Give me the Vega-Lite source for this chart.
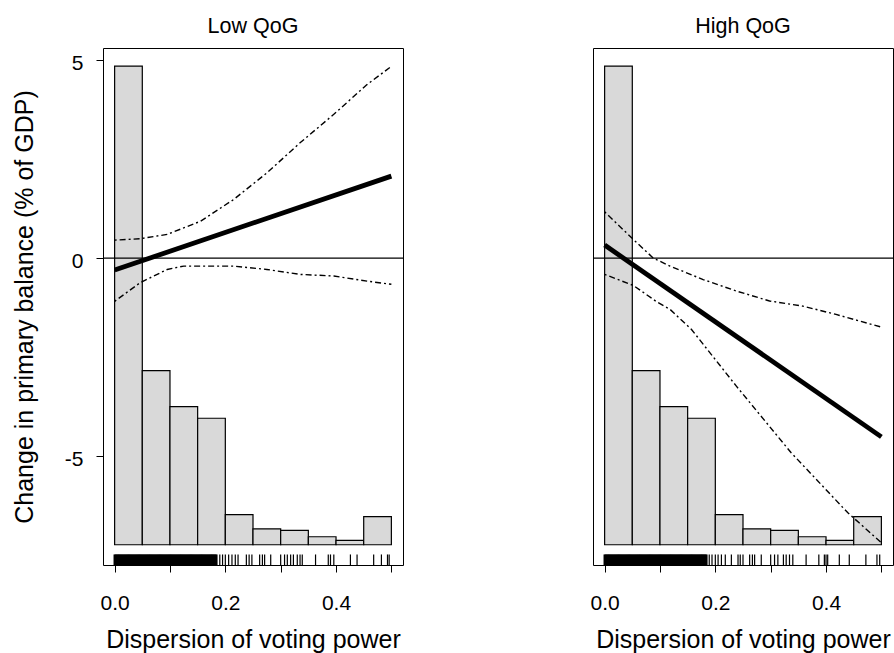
{
  "$schema": "https://vega.github.io/schema/vega-lite/v6.json",
  "background": "white",
  "padding": {"left": 11, "top": 15, "right": 0, "bottom": 0},
  "spacing": 190,
  "bounds": "flush",
  "config": {
    "font": "Liberation Sans",
    "view": {"stroke": "black", "strokeWidth": 1},
    "axis": {
      "grid": false,
      "domain": false,
      "tickColor": "black",
      "tickSize": 7,
      "tickWidth": 1,
      "labelColor": "black",
      "titleColor": "black",
      "labelFont": "Liberation Sans",
      "titleFont": "Liberation Sans",
      "labelFontSize": 21,
      "titleFontSize": 25,
      "titleFontWeight": "normal",
      "labelOverlap": false,
      "labelFlush": false
    },
    "title": {
      "font": "Liberation Sans",
      "fontSize": 21.5,
      "fontWeight": "normal",
      "color": "black",
      "anchor": "middle",
      "baseline": "alphabetic",
      "offset": 11
    }
  },
  "datasets": {
    "hist": [
      {"bin_start": 0.00, "bin_end": 0.05, "top": 4.845},
      {"bin_start": 0.05, "bin_end": 0.10, "top": -2.84},
      {"bin_start": 0.10, "bin_end": 0.15, "top": -3.745},
      {"bin_start": 0.15, "bin_end": 0.20, "top": -4.04},
      {"bin_start": 0.20, "bin_end": 0.25, "top": -6.47},
      {"bin_start": 0.25, "bin_end": 0.30, "top": -6.83},
      {"bin_start": 0.30, "bin_end": 0.35, "top": -6.87},
      {"bin_start": 0.35, "bin_end": 0.40, "top": -7.03},
      {"bin_start": 0.40, "bin_end": 0.45, "top": -7.12},
      {"bin_start": 0.45, "bin_end": 0.50, "top": -6.52}
    ],
    "curves": [
      {"panel": "low", "series": "est", "x": 0.0, "y": -0.30},
      {"panel": "low", "series": "est", "x": 0.5, "y": 2.07},
      {"panel": "low", "series": "hi", "x": 0.0, "y": 0.455},
      {"panel": "low", "series": "hi", "x": 0.046, "y": 0.49},
      {"panel": "low", "series": "hi", "x": 0.095, "y": 0.60},
      {"panel": "low", "series": "hi", "x": 0.155, "y": 0.93},
      {"panel": "low", "series": "hi", "x": 0.215, "y": 1.48},
      {"panel": "low", "series": "hi", "x": 0.275, "y": 2.15},
      {"panel": "low", "series": "hi", "x": 0.335, "y": 2.91},
      {"panel": "low", "series": "hi", "x": 0.396, "y": 3.63},
      {"panel": "low", "series": "hi", "x": 0.456, "y": 4.38},
      {"panel": "low", "series": "hi", "x": 0.5, "y": 4.84},
      {"panel": "low", "series": "lo", "x": 0.0, "y": -1.09},
      {"panel": "low", "series": "lo", "x": 0.046, "y": -0.62},
      {"panel": "low", "series": "lo", "x": 0.095, "y": -0.285},
      {"panel": "low", "series": "lo", "x": 0.125, "y": -0.20},
      {"panel": "low", "series": "lo", "x": 0.215, "y": -0.20},
      {"panel": "low", "series": "lo", "x": 0.275, "y": -0.285},
      {"panel": "low", "series": "lo", "x": 0.335, "y": -0.41},
      {"panel": "low", "series": "lo", "x": 0.396, "y": -0.45},
      {"panel": "low", "series": "lo", "x": 0.456, "y": -0.58},
      {"panel": "low", "series": "lo", "x": 0.5, "y": -0.66},
      {"panel": "high", "series": "est", "x": 0.0, "y": 0.33},
      {"panel": "high", "series": "est", "x": 0.5, "y": -4.51},
      {"panel": "high", "series": "hi", "x": 0.0, "y": 1.17},
      {"panel": "high", "series": "hi", "x": 0.052, "y": 0.47},
      {"panel": "high", "series": "hi", "x": 0.088, "y": 0.0},
      {"panel": "high", "series": "hi", "x": 0.118, "y": -0.20},
      {"panel": "high", "series": "hi", "x": 0.178, "y": -0.54},
      {"panel": "high", "series": "hi", "x": 0.238, "y": -0.83},
      {"panel": "high", "series": "hi", "x": 0.298, "y": -1.08},
      {"panel": "high", "series": "hi", "x": 0.358, "y": -1.21},
      {"panel": "high", "series": "hi", "x": 0.418, "y": -1.42},
      {"panel": "high", "series": "hi", "x": 0.5, "y": -1.74},
      {"panel": "high", "series": "lo", "x": 0.0, "y": -0.41},
      {"panel": "high", "series": "lo", "x": 0.052, "y": -0.69},
      {"panel": "high", "series": "lo", "x": 0.094, "y": -1.10},
      {"panel": "high", "series": "lo", "x": 0.118, "y": -1.29},
      {"panel": "high", "series": "lo", "x": 0.157, "y": -1.80},
      {"panel": "high", "series": "lo", "x": 0.238, "y": -3.23},
      {"panel": "high", "series": "lo", "x": 0.337, "y": -4.91},
      {"panel": "high", "series": "lo", "x": 0.439, "y": -6.42},
      {"panel": "high", "series": "lo", "x": 0.5, "y": -7.18}
    ],
    "rug": [
      {"panel": "both", "x": 0.000}, {"panel": "both", "x": 0.002}, {"panel": "both", "x": 0.004}, {"panel": "both", "x": 0.006}, {"panel": "both", "x": 0.008},
      {"panel": "both", "x": 0.010}, {"panel": "both", "x": 0.012}, {"panel": "both", "x": 0.014}, {"panel": "both", "x": 0.016}, {"panel": "both", "x": 0.018},
      {"panel": "both", "x": 0.020}, {"panel": "both", "x": 0.022}, {"panel": "both", "x": 0.024}, {"panel": "both", "x": 0.026}, {"panel": "both", "x": 0.028},
      {"panel": "both", "x": 0.030}, {"panel": "both", "x": 0.032}, {"panel": "both", "x": 0.034}, {"panel": "both", "x": 0.036}, {"panel": "both", "x": 0.038},
      {"panel": "both", "x": 0.040}, {"panel": "both", "x": 0.042}, {"panel": "both", "x": 0.044}, {"panel": "both", "x": 0.046}, {"panel": "both", "x": 0.048},
      {"panel": "both", "x": 0.050}, {"panel": "both", "x": 0.052}, {"panel": "both", "x": 0.054}, {"panel": "both", "x": 0.056}, {"panel": "both", "x": 0.058},
      {"panel": "both", "x": 0.060}, {"panel": "both", "x": 0.062}, {"panel": "both", "x": 0.064}, {"panel": "both", "x": 0.066}, {"panel": "both", "x": 0.068},
      {"panel": "both", "x": 0.070}, {"panel": "both", "x": 0.072}, {"panel": "both", "x": 0.074}, {"panel": "both", "x": 0.076}, {"panel": "both", "x": 0.078},
      {"panel": "both", "x": 0.080}, {"panel": "both", "x": 0.082}, {"panel": "both", "x": 0.084}, {"panel": "both", "x": 0.086}, {"panel": "both", "x": 0.088},
      {"panel": "both", "x": 0.090}, {"panel": "both", "x": 0.092}, {"panel": "both", "x": 0.094}, {"panel": "both", "x": 0.096}, {"panel": "both", "x": 0.098},
      {"panel": "both", "x": 0.100}, {"panel": "both", "x": 0.102}, {"panel": "both", "x": 0.104}, {"panel": "both", "x": 0.106}, {"panel": "both", "x": 0.108},
      {"panel": "both", "x": 0.110}, {"panel": "both", "x": 0.112}, {"panel": "both", "x": 0.114}, {"panel": "both", "x": 0.116}, {"panel": "both", "x": 0.118},
      {"panel": "both", "x": 0.120}, {"panel": "both", "x": 0.122}, {"panel": "both", "x": 0.124}, {"panel": "both", "x": 0.126}, {"panel": "both", "x": 0.128},
      {"panel": "both", "x": 0.130}, {"panel": "both", "x": 0.132}, {"panel": "both", "x": 0.134}, {"panel": "both", "x": 0.136}, {"panel": "both", "x": 0.138},
      {"panel": "both", "x": 0.140}, {"panel": "both", "x": 0.142}, {"panel": "both", "x": 0.144}, {"panel": "both", "x": 0.146}, {"panel": "both", "x": 0.148},
      {"panel": "both", "x": 0.150}, {"panel": "both", "x": 0.152}, {"panel": "both", "x": 0.154}, {"panel": "both", "x": 0.156}, {"panel": "both", "x": 0.158},
      {"panel": "both", "x": 0.160}, {"panel": "both", "x": 0.162}, {"panel": "both", "x": 0.164}, {"panel": "both", "x": 0.166}, {"panel": "both", "x": 0.168},
      {"panel": "both", "x": 0.170}, {"panel": "both", "x": 0.172}, {"panel": "both", "x": 0.174}, {"panel": "both", "x": 0.176}, {"panel": "both", "x": 0.178},
      {"panel": "both", "x": 0.180}, {"panel": "both", "x": 0.182}, {"panel": "both", "x": 0.184},
      {"panel": "low", "x": 0.190}, {"panel": "low", "x": 0.195}, {"panel": "low", "x": 0.200}, {"panel": "low", "x": 0.206},
      {"panel": "low", "x": 0.212}, {"panel": "low", "x": 0.218}, {"panel": "low", "x": 0.223}, {"panel": "low", "x": 0.238},
      {"panel": "low", "x": 0.243}, {"panel": "low", "x": 0.248}, {"panel": "low", "x": 0.262}, {"panel": "low", "x": 0.267},
      {"panel": "low", "x": 0.271}, {"panel": "low", "x": 0.282}, {"panel": "low", "x": 0.300}, {"panel": "low", "x": 0.307},
      {"panel": "low", "x": 0.312}, {"panel": "low", "x": 0.318}, {"panel": "low", "x": 0.323}, {"panel": "low", "x": 0.330},
      {"panel": "low", "x": 0.335}, {"panel": "low", "x": 0.339}, {"panel": "low", "x": 0.363}, {"panel": "low", "x": 0.386},
      {"panel": "low", "x": 0.390}, {"panel": "low", "x": 0.396}, {"panel": "low", "x": 0.426}, {"panel": "low", "x": 0.438},
      {"panel": "low", "x": 0.468}, {"panel": "low", "x": 0.482}, {"panel": "low", "x": 0.493}, {"panel": "low", "x": 0.496},
      {"panel": "high", "x": 0.189}, {"panel": "high", "x": 0.194}, {"panel": "high", "x": 0.200}, {"panel": "high", "x": 0.205},
      {"panel": "high", "x": 0.211}, {"panel": "high", "x": 0.218}, {"panel": "high", "x": 0.229}, {"panel": "high", "x": 0.241},
      {"panel": "high", "x": 0.245}, {"panel": "high", "x": 0.250}, {"panel": "high", "x": 0.262}, {"panel": "high", "x": 0.267},
      {"panel": "high", "x": 0.271}, {"panel": "high", "x": 0.283}, {"panel": "high", "x": 0.300}, {"panel": "high", "x": 0.307},
      {"panel": "high", "x": 0.313}, {"panel": "high", "x": 0.323}, {"panel": "high", "x": 0.328}, {"panel": "high", "x": 0.334},
      {"panel": "high", "x": 0.340}, {"panel": "high", "x": 0.364}, {"panel": "high", "x": 0.387}, {"panel": "high", "x": 0.397},
      {"panel": "high", "x": 0.400}, {"panel": "high", "x": 0.403}, {"panel": "high", "x": 0.424}, {"panel": "high", "x": 0.442},
      {"panel": "high", "x": 0.472}, {"panel": "high", "x": 0.492}, {"panel": "high", "x": 0.497}
    ]
  },
  "hconcat": [
    {
      "width": 300,
      "height": 517,
      "title": "Low QoG",
      "layer": [
        {
          "data": {"name": "hist"},
          "mark": {"type": "rect", "fill": "#D9D9D9", "stroke": "black", "strokeWidth": 1.2},
          "encoding": {
            "x": {
              "field": "bin_start", "type": "quantitative",
              "scale": {"domain": [-0.021, 0.521], "nice": false, "zero": false},
              "axis": {
                "values": [0, 0.1, 0.2, 0.3, 0.4, 0.5],
                "labelExpr": "round(datum.value * 10) % 2 == 0 ? format(datum.value, '.1f') : ''",
                "labelPadding": 20,
                "titlePadding": 14
              },
              "title": "Dispersion of voting power"
            },
            "x2": {"field": "bin_end"},
            "y": {
              "field": "top", "type": "quantitative",
              "scale": {"domain": [-7.743, 5.303], "nice": false, "zero": false},
              "axis": {
                "values": [-5, 0, 5],
                "labelExpr": "'' + datum.value",
                "labelPadding": 13,
                "labelOffset": 3,
                "titlePadding": 27
              },
              "title": "Change in primary balance (% of GDP)"
            },
            "y2": {"datum": -7.232}
          }
        },
        {
          "data": {"name": "rug"},
          "transform": [{"filter": "datum.panel == 'both'"}],
          "mark": {"type": "rule", "color": "black", "strokeWidth": 2.2},
          "encoding": {
            "x": {"field": "x", "type": "quantitative"},
            "y": {"datum": -7.743},
            "y2": {"datum": -7.477}
          }
        },
        {
          "data": {"name": "rug"},
          "transform": [{"filter": "datum.panel == 'low'"}],
          "mark": {"type": "rule", "color": "black", "strokeWidth": 1.2},
          "encoding": {
            "x": {"field": "x", "type": "quantitative"},
            "y": {"datum": -7.743},
            "y2": {"datum": -7.477}
          }
        },
        {
          "data": {"values": [{"level": 0}]},
          "mark": {"type": "rule", "color": "black", "strokeWidth": 1.2},
          "encoding": {"y": {"field": "level", "type": "quantitative"}}
        },
        {
          "data": {"name": "curves"},
          "transform": [{"filter": "datum.panel == 'low' && datum.series != 'est'"}],
          "mark": {"type": "line", "color": "black", "strokeWidth": 1.4, "strokeDash": [2, 3, 6, 3]},
          "encoding": {
            "x": {"field": "x", "type": "quantitative"},
            "y": {"field": "y", "type": "quantitative"},
            "detail": {"field": "series"}
          }
        },
        {
          "data": {"name": "curves"},
          "transform": [{"filter": "datum.panel == 'low' && datum.series == 'est'"}],
          "mark": {"type": "line", "color": "black", "strokeWidth": 4.8},
          "encoding": {
            "x": {"field": "x", "type": "quantitative"},
            "y": {"field": "y", "type": "quantitative"}
          }
        }
      ]
    },
    {
      "width": 300,
      "height": 517,
      "title": "High QoG",
      "layer": [
        {
          "data": {"name": "hist"},
          "mark": {"type": "rect", "fill": "#D9D9D9", "stroke": "black", "strokeWidth": 1.2},
          "encoding": {
            "x": {
              "field": "bin_start", "type": "quantitative",
              "scale": {"domain": [-0.021, 0.521], "nice": false, "zero": false},
              "axis": {
                "values": [0, 0.1, 0.2, 0.3, 0.4, 0.5],
                "labelExpr": "round(datum.value * 10) % 2 == 0 ? format(datum.value, '.1f') : ''",
                "labelPadding": 20,
                "titlePadding": 14
              },
              "title": "Dispersion of voting power"
            },
            "x2": {"field": "bin_end"},
            "y": {
              "field": "top", "type": "quantitative",
              "scale": {"domain": [-7.743, 5.303], "nice": false, "zero": false},
              "axis": null
            },
            "y2": {"datum": -7.232}
          }
        },
        {
          "data": {"name": "rug"},
          "transform": [{"filter": "datum.panel == 'both'"}],
          "mark": {"type": "rule", "color": "black", "strokeWidth": 2.2},
          "encoding": {
            "x": {"field": "x", "type": "quantitative"},
            "y": {"datum": -7.743},
            "y2": {"datum": -7.477}
          }
        },
        {
          "data": {"name": "rug"},
          "transform": [{"filter": "datum.panel == 'high'"}],
          "mark": {"type": "rule", "color": "black", "strokeWidth": 1.2},
          "encoding": {
            "x": {"field": "x", "type": "quantitative"},
            "y": {"datum": -7.743},
            "y2": {"datum": -7.477}
          }
        },
        {
          "data": {"values": [{"level": 0}]},
          "mark": {"type": "rule", "color": "black", "strokeWidth": 1.2},
          "encoding": {"y": {"field": "level", "type": "quantitative"}}
        },
        {
          "data": {"name": "curves"},
          "transform": [{"filter": "datum.panel == 'high' && datum.series != 'est'"}],
          "mark": {"type": "line", "color": "black", "strokeWidth": 1.4, "strokeDash": [2, 3, 6, 3]},
          "encoding": {
            "x": {"field": "x", "type": "quantitative"},
            "y": {"field": "y", "type": "quantitative"},
            "detail": {"field": "series"}
          }
        },
        {
          "data": {"name": "curves"},
          "transform": [{"filter": "datum.panel == 'high' && datum.series == 'est'"}],
          "mark": {"type": "line", "color": "black", "strokeWidth": 4.8},
          "encoding": {
            "x": {"field": "x", "type": "quantitative"},
            "y": {"field": "y", "type": "quantitative"}
          }
        }
      ]
    }
  ]
}
